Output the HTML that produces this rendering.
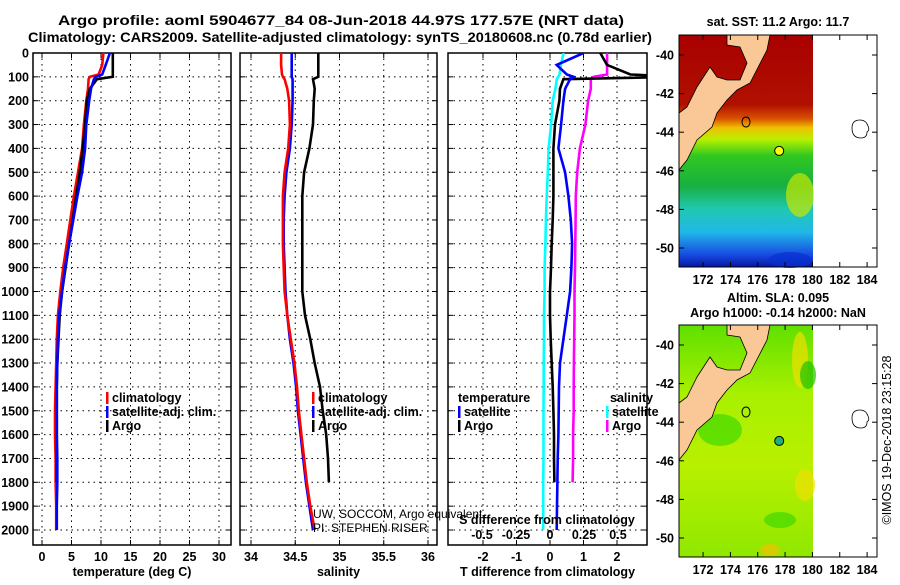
<!DOCTYPE html>
<html><head><meta charset="utf-8"><style>
body{margin:0;background:#fff}
svg text{font-family:"Liberation Sans",Arial,sans-serif;fill:#000}
.b{font-weight:bold;font-size:12.5px}
</style></head><body>
<svg id="svg" width="900" height="580" xmlns="http://www.w3.org/2000/svg">
<text x="341" y="25" text-anchor="middle" class="b" style="font-size:13.5px" textLength="566" lengthAdjust="spacingAndGlyphs">Argo profile: aoml 5904677_84 08-Jun-2018 44.97S 177.57E (NRT data)</text>
<text x="340" y="42" text-anchor="middle" class="b" style="font-size:13.5px" textLength="624" lengthAdjust="spacingAndGlyphs">Climatology: CARS2009. Satellite-adjusted climatology: synTS_20180608.nc (0.78d earlier)</text>
<g id="plots"></g>
<g id="maps"></g>
<text transform="translate(891,440) rotate(-90)" text-anchor="middle" style="font-size:12.5px">©IMOS 19-Dec-2018 23:15:28</text>
</svg>
<script>
const NS="http://www.w3.org/2000/svg";
const depths=[0,50,90,100,110,150,200,300,400,500,600,700,800,900,1000,1100,1200,1300,1400,1500,1600,1700,1800,1900,2000];
const tempClim=[10.4,10.2,9.6,8.1,7.9,7.8,7.5,7.1,6.8,6.1,5.4,4.8,4.2,3.6,3.1,2.7,2.5,2.4,2.3,2.2,2.2,2.3,2.3,2.4,2.4];
const tempSat=[11.5,10.8,10.2,9.1,8.8,8.3,8.0,7.5,7.3,6.8,6.0,5.3,4.6,3.9,3.4,2.9,2.7,2.6,2.5,2.5,2.5,2.6,2.6,2.5,2.5];
const tempArgo=[12.0,12.0,12.0,12.0,9.3,8.1,7.6,7.3,6.9,6.4,5.8,5.2,4.6,4.0,3.4,3.0,2.8,2.6,2.5,2.5,2.5,2.5,2.5];
const salClim=[34.34,34.34,34.35,34.36,34.38,34.41,34.43,34.44,34.42,34.38,34.36,34.36,34.36,34.37,34.38,34.41,34.45,34.49,34.52,34.54,34.57,34.6,34.63,34.67,34.72];
const salSat=[34.46,34.46,34.46,34.46,34.47,34.47,34.47,34.46,34.44,34.40,34.38,34.37,34.37,34.38,34.39,34.41,34.44,34.48,34.51,34.53,34.56,34.59,34.62,34.66,34.70];
const salArgo=[34.76,34.76,34.76,34.76,34.70,34.72,34.71,34.70,34.66,34.60,34.58,34.58,34.58,34.58,34.58,34.61,34.67,34.72,34.78,34.81,34.85,34.87,34.88];
const dTsat=[1.0,0.2,0.5,0.7,0.6,0.45,0.4,0.33,0.25,0.45,0.55,0.62,0.66,0.64,0.6,0.5,0.4,0.3,0.27,0.26,0.25,0.23,0.22,0.21,0.2];
const dTargo=[1.5,1.7,2.4,3.9,0.4,0.3,0.28,0.15,0.1,0.1,0.1,0.08,0.05,0.03,0.0,0.0,0.02,0.05,0.08,0.1,0.12,0.12,0.13];
const dSsat=[0.1,0.08,0.07,0.06,0.05,0.04,0.02,0.008,-0.01,-0.016,-0.024,-0.03,-0.034,-0.04,-0.04,-0.044,-0.044,-0.046,-0.046,-0.048,-0.048,-0.048,-0.05,-0.05,-0.05];
const dSargo=[0.42,0.42,0.42,0.32,0.3,0.3,0.28,0.26,0.22,0.2,0.19,0.188,0.186,0.184,0.18,0.18,0.178,0.176,0.174,0.174,0.17,0.17,0.166];
const tTicks=[0,5,10,15,20,25,30];
const sTicks=[34,34.5,35,35.5,36];
const dtTicks=[-2,-1,0,1,2];
const dsTicks=[-0.5,-0.25,0,0.25,0.5];
const yTicks=[0,100,200,300,400,500,600,700,800,900,1000,1100,1200,1300,1400,1500,1600,1700,1800,1900,2000];

const Y0=53,Y1=545;
const yScale=d=>53+d*(477/2000);
function el(tag,attrs,parent,txt){const e=document.createElementNS(NS,tag);for(const k in attrs)e.setAttribute(k,attrs[k]);if(txt!==undefined)e.textContent=txt;parent.appendChild(e);return e;}
const plots=document.getElementById('plots');

function panel(name,x0,x1,xs,ticks,tickFmt,title,showY){
  const g=el('g',{},plots);
  
  
  ticks.forEach(t=>{const x=xs(t);
    const l=el('line',{x1:x,x2:x,y1:Y0,y2:Y1,stroke:'#000','stroke-width':1,'stroke-dasharray':'1.5,4'},g);
    
    el('line',{x1:x,x2:x,y1:Y1,y2:Y1-5,stroke:'#000'},g);el('line',{x1:x,x2:x,y1:Y0,y2:Y0+5,stroke:'#000'},g);
    const tx=el('text',{x:x,y:561,'text-anchor':'middle',class:'b'},g,tickFmt(t));
    
  });
  yTicks.forEach(d=>{const y=yScale(d);
    el('line',{x1:x0,x2:x1,y1:y,y2:y,stroke:'#000','stroke-width':1,'stroke-dasharray':'1.5,4'},g);
    el('line',{x1:x0,x2:x0+5,y1:y,y2:y,stroke:'#000'},g);el('line',{x1:x1,x2:x1-5,y1:y,y2:y,stroke:'#000'},g);
    if(showY){const t=el('text',{x:29,y:y+4.5,'text-anchor':'end',class:'b'},g,String(d));
      }
  });
  const r=el('rect',{x:x0,y:Y0,width:x1-x0,height:Y1-Y0,fill:'none',stroke:'#000','stroke-width':1.5},g);
  
  const at=el('text',{x:(x0+x1)/2,y:576,'text-anchor':'middle',class:'b'},g,title);
  
  return g;
}
function line(g,vals,xs,color,name){
  const pts=vals.map((v,i)=>xs(v).toFixed(1)+','+yScale(depths[i]).toFixed(1)).join(' ');
  const p=el('polyline',{points:pts,fill:'none',stroke:color,'stroke-width':2.6,'stroke-linejoin':'miter'},g);
  
}
function legend(g,x,y,color,label,name){
  el('rect',{x:x,y:y-10,width:2.5,height:12,fill:color},g);
  const t=el('text',{x:x+6,y:y,class:'b'},g,label);
  
}
// panel 1
const xT=v=>42+v*5.9;
const g1=panel('temperature-panel',33,231,xT,tTicks,String,'temperature (deg C)',true);
line(g1,tempClim,xT,'#f00','climatology-temp-line');
line(g1,tempArgo,xT,'#000','argo-temp-line');
line(g1,tempSat,xT,'#00f','satellite-temp-line');
legend(g1,106,402,'#f00','climatology','legend-climatology');
legend(g1,106,416,'#00f','satellite-adj. clim.','legend-satellite');
legend(g1,106,430,'#000','Argo','legend-argo');
// panel 2
const xS=v=>251+(v-34)*88.5;
const g2=panel('salinity-panel',240,437,xS,sTicks,String,'salinity',false);
line(g2,salArgo,xS,'#000','argo-sal-line');
line(g2,salSat,xS,'#00f','satellite-sal-line');
line(g2,salClim,xS,'#f00','climatology-sal-line');
legend(g2,312,402,'#f00','climatology','legend-climatology-2');
legend(g2,312,416,'#00f','satellite-adj. clim.','legend-satellite-2');
legend(g2,312,430,'#000','Argo','legend-argo-2');
const c1=el('text',{x:313,y:518,style:'font-size:12px'},g2,'UW, SOCCOM, Argo equivalent');

const c2=el('text',{x:313,y:532,style:'font-size:12px'},g2,'PI: STEPHEN RISER');

// panel 3
const xD=v=>550+v*33.5, xSD=v=>550+v*136;
const g3=panel('difference-panel',448,647,xD,dtTicks,String,'T difference from climatology',false);
const cp=el('clipPath',{id:'c3'},g3);el('rect',{x:448,y:53,width:199,height:492},cp);
const gl=el('g',{'clip-path':'url(#c3)'},g3);
line(gl,dSsat,xSD,'#0ff','satellite-sdiff-line');
line(gl,dSargo,xSD,'#f0f','argo-sdiff-line');
line(gl,dTargo,xD,'#000','argo-tdiff-line');
line(gl,dTsat,xD,'#00f','satellite-tdiff-line');
const st=el('text',{x:547,y:524,'text-anchor':'middle',class:'b'},g3,'S difference from climatology');

dsTicks.forEach(v=>{const t=el('text',{x:xSD(v),y:539,'text-anchor':'middle',class:'b'},g3,String(v));
  });
const th=el('text',{x:458,y:402,class:'b'},g3,'temperature');
legend(g3,458,416,'#00f','satellite','legend-t-satellite');
legend(g3,458,430,'#000','Argo','legend-t-argo');
const sh=el('text',{x:610,y:402,class:'b'},g3,'salinity');
legend(g3,606,416,'#0ff','satellite','legend-s-satellite');
legend(g3,606,430,'#f0f','Argo','legend-s-argo');

// maps
const maps=document.getElementById('maps');
const lonTicks=[172,174,176,178,180,182,184], latTicks=[-40,-42,-44,-46,-48,-50];
function map(name,top,title1,title2,bands,blobs,markerFill){
  const g=el('g',{},maps);
  
  const lx=v=>679+(v-170.24)*13.67, ly=v=>top+20+(-40-v)*19.3;
  const id=name+'g';
  const grad=el('linearGradient',{id:id,x1:0,y1:0,x2:0,y2:1},g);
  bands.forEach(b=>el('stop',{offset:b[0],'stop-color':b[1]},grad));
  el('rect',{x:679,y:top,width:134,height:232,fill:'url(#'+id+')'},g);
  blobs.forEach(b=>el('ellipse',{cx:b[0],cy:top+b[1],rx:b[2],ry:b[3],fill:b[4],opacity:0.7},g));
  const land=[[727,0],[770,0],[767,15],[750,48],[737,55],[727,65],[717,78],[712,92],[697,105],[687,125],[679,135],[679,78],[687,72],[697,52],[710,32],[717,42],[727,45],[740,45],[747,28],[740,12],[727,10]];
  const lp=el('polygon',{points:land.map(p=>p[0]+','+(p[1]+top)).join(' '),fill:'#fac896',stroke:'#000','stroke-width':0.8},g);
  
  el('ellipse',{cx:746,cy:top+87,rx:4,ry:5,fill:'none',stroke:'#000'},g);
  el('path',{d:`M852 ${top+93} q0 -8 8 -8 q6 0 8 6 q2 4 -1 6 q0 6 -6 6 q-9 0 -9 -10z`,fill:'none',stroke:'#000','stroke-width':0.8},g);
  const mk=el('circle',{cx:lx(177.57),cy:ly(-44.97),r:4.5,fill:markerFill,stroke:'#000'},g);
  
  el('rect',{x:679,y:top,width:198,height:232,fill:'none',stroke:'#000','stroke-width':1},g);
  lonTicks.forEach(v=>{const x=lx(v);el('line',{x1:x,x2:x,y1:top+232,y2:top+227,stroke:'#000'},g);el('line',{x1:x,x2:x,y1:top,y2:top+5,stroke:'#000'},g);
    const t=el('text',{x:x,y:top+249,'text-anchor':'middle',class:'b'},g,String(v));});
  latTicks.forEach(v=>{const y=ly(v);el('line',{x1:679,x2:684,y1:y,y2:y,stroke:'#000'},g);el('line',{x1:877,x2:872,y1:y,y2:y,stroke:'#000'},g);
    const t=el('text',{x:674,y:y+4.5,'text-anchor':'end',class:'b'},g,String(v));});
  if(title1){const t=el('text',{x:778,y:top-23,'text-anchor':'middle',class:'b'},g,title1);}
  if(title2){const t=el('text',{x:778,y:top-8,'text-anchor':'middle',class:'b'},g,title2);}
}
map('sst-map',35,null,null,[[0,'#a80000'],[0.3,'#b01000'],[0.36,'#d85000'],[0.4,'#f0c000'],[0.45,'#b8f000'],[0.52,'#30c820'],[0.65,'#18b040'],[0.75,'#20c8b0'],[0.85,'#20b8e8'],[0.95,'#1848e0'],[1,'#0818a0']],
  [[800,160,14,22,'#c8e800'],[790,225,22,8,'#0830d0']],'#ffff00');
const sstT=el('text',{x:778,y:26,'text-anchor':'middle',class:'b'},maps,'sat. SST: 11.2 Argo: 11.7');


map('sla-map',325,'Altim. SLA: 0.095','Argo h1000: -0.14 h2000: NaN',[[0,'#60e000'],[0.3,'#a8f000'],[0.6,'#b8f000'],[1,'#90e800']],
  [[800,35,8,28,'#f0e000'],[808,50,8,14,'#20c000'],[720,105,22,16,'#40d800'],[805,160,10,16,'#f0e000'],[780,195,16,8,'#40d800'],[770,225,10,6,'#f0c000']],'#20b080');
</script>
</body></html>
